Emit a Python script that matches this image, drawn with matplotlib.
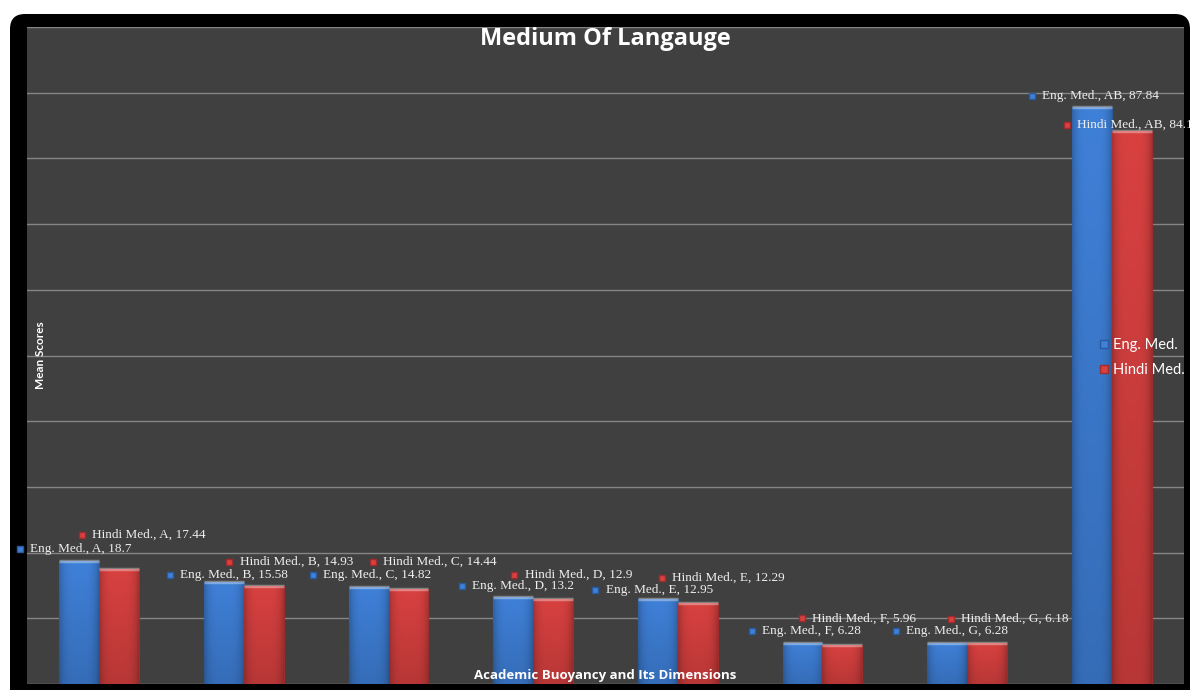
import numpy as np
import matplotlib.pyplot as plt
from matplotlib.patches import FancyBboxPatch
from matplotlib.colors import to_rgb
from matplotlib.lines import Line2D

# data
categories = ['A', 'B', 'C', 'D', 'E', 'F', 'G', 'AB']
eng_med = [18.7, 15.58, 14.82, 13.2, 12.95, 6.28, 6.28, 87.84]
hindi_med = [17.44, 14.93, 14.44, 12.9, 12.29, 5.96, 6.18, 84.1]

# where the data labels sit (x in category units, y in score units)
eng_lab_x = [-0.55, 0.49, 1.48, 2.51, 3.43, 4.51, 5.51, 6.45]
eng_lab_y = [20.5, 16.6, 16.6, 14.9, 14.3, 8.1, 8.1, 89.5]
hindi_lab_x = [-0.12, 0.90, 1.89, 2.87, 3.89, 4.86, 5.89, 6.69]
hindi_lab_y = [22.7, 18.6, 18.6, 16.6, 16.1, 10.0, 9.9, 85.1]

BLUE = '#3f80d8'
RED = '#d84140'
BG = '#404040'
W, H = 1192, 690


def shade_bar(ax, bar, color):
    # fake the excel "3d" look: darker edges, lighter top cap
    r, g, b = to_rgb(color)
    nx, ny = 40, 60
    xs = np.linspace(-1, 1, nx)
    ys = np.linspace(0, 1, ny)
    fx = 1 - 0.22 * np.abs(xs) ** 4
    fy = 0.85 + 0.15 * ys
    f = fy[:, None] * fx[None, :]
    img = np.dstack([np.clip(r * f, 0, 1), np.clip(g * f, 0, 1), np.clip(b * f, 0, 1)])
    x0, y0 = bar.get_x(), bar.get_y()
    x1, y1 = x0 + bar.get_width(), y0 + bar.get_height()
    im = ax.imshow(img, extent=(x0, x1, y0, y1), origin='lower', aspect='auto',
                   interpolation='bilinear', zorder=3)
    im.set_clip_path(bar)
    ax.plot([x0, x1], [y1, y1], color='white', alpha=0.35, lw=2.5, zorder=4,
            solid_capstyle='butt')


fig = plt.figure(figsize=(W / 100, H / 100), dpi=100)
fig.patch.set_facecolor('white')

frame = FancyBboxPatch((10 / W, -0.05), (1190 - 10) / W, (H - 14) / H + 0.05,
                       boxstyle='round,pad=0,rounding_size=0.0126',
                       mutation_aspect=W / H, transform=fig.transFigure,
                       facecolor='black', edgecolor='none', zorder=-5)
fig.patches.append(frame)

ax = fig.add_axes([27 / W, (H - 684) / H, (1184 - 27) / W, (684 - 27) / H])
ax.set_zorder(2)
ax.set_facecolor(BG)
for s in ax.spines.values():
    s.set_visible(False)

x = np.arange(len(categories))
bw = 0.276
b1 = ax.bar(x - bw / 2, eng_med, bw, color=BLUE, edgecolor='#2a5a9e', linewidth=0.8, zorder=2)
b2 = ax.bar(x + bw / 2, hindi_med, bw, color=RED, edgecolor='#9e2c2c', linewidth=0.8, zorder=2)
for bar in b1:
    shade_bar(ax, bar, BLUE)
for bar in b2:
    shade_bar(ax, bar, RED)

ax.set_xlim(-0.5, len(categories) - 0.5)
ax.set_ylim(0, 100)
ax.set_yticks(np.arange(0, 101, 10))
ax.set_xticks([])
ax.tick_params(left=False, labelleft=False)
ax.grid(axis='y', color='#858585', linewidth=1, zorder=1)
ax.set_axisbelow(True)

# data labels
lab_font = dict(family='Liberation Serif', size=9.5, color='#eeeeee', va='center', zorder=6)
for i, c in enumerate(categories):
    ax.plot(eng_lab_x[i], eng_lab_y[i], marker='s', ms=4, color=BLUE, mec='#2a5a9e',
            clip_on=False, zorder=6)
    ax.text(eng_lab_x[i] + 0.07, eng_lab_y[i], f'Eng. Med., {c}, {eng_med[i]}',
            clip_on=False, **lab_font)
    ax.plot(hindi_lab_x[i], hindi_lab_y[i], marker='s', ms=4, color=RED, mec='#9e2c2c',
            clip_on=False, zorder=6)
    ax.text(hindi_lab_x[i] + 0.07, hindi_lab_y[i], f'Hindi Med., {c}, {hindi_med[i]}',
            clip_on=False, **lab_font)

handles = [Line2D([], [], marker='s', ls='', ms=6, color=BLUE, mec='#2a5a9e'),
           Line2D([], [], marker='s', ls='', ms=6, color=RED, mec='#9e2c2c')]
leg = ax.legend(handles, ['Eng. Med.', 'Hindi Med.'], loc='center left',
                bbox_to_anchor=(0.921, 0.497), frameon=False, handlelength=0.6,
                handletextpad=0.3, labelspacing=0.75, borderpad=0,
                prop=dict(family='Lato', size=10.5))
for t in leg.get_texts():
    t.set_color('white')

ax.text(0.5, (684 - 39) / 657, 'Medium Of Langauge', transform=ax.transAxes,
        ha='center', va='center', color='white', fontsize=17, fontweight='bold',
        family='Open Sans', zorder=7)
ax.text(0.5, (684 - 676) / 657, 'Academic Buoyancy and Its Dimensions', transform=ax.transAxes,
        ha='center', va='center', color='white', fontsize=9.5, fontweight='bold',
        family='Open Sans', zorder=7)
ax.text((41 - 27) / 1157, (684 - 355) / 657, 'Mean Scores', transform=ax.transAxes,
        ha='center', va='center', rotation=90, color='white', fontsize=8.5,
        fontweight='bold', family='Lato', zorder=7)

fig.savefig('out.png', dpi=100, facecolor=fig.get_facecolor())
